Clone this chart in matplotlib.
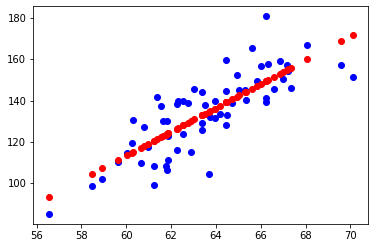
import numpy as np
import matplotlib
matplotlib.use("Agg")
import matplotlib.pyplot as plt

# heights (x) and weights (y)
height = np.array([56.53, 58.47, 58.92, 59.61, 60.04, 60.24, 60.28, 60.64, 60.81, 60.97,
                   61.22, 61.22, 61.39, 61.57, 61.62, 61.80, 61.75, 61.80, 61.88, 61.86,
                   62.26, 62.26, 62.30, 62.55, 62.55, 62.75, 62.87, 63.04, 63.40, 63.67,
                   63.52, 63.94, 63.94, 64.16, 63.40, 63.40, 63.73, 64.47, 64.47, 64.50,
                   64.47, 64.71, 64.92, 65.05, 65.30, 65.32, 65.62, 65.84, 65.99, 66.22,
                   66.22, 66.22, 66.34, 66.61, 66.86, 67.01, 67.19, 67.23, 67.37, 68.08,
                   69.60, 70.12])
weight = np.array([85.0, 98.7, 102.1, 110.2, 114.5, 119.4, 130.5, 109.7, 127.2, 117.6,
                   108.2, 99.0, 141.7, 137.3, 130.1, 130.1, 108.4, 106.3, 111.4, 122.8,
                   116.0, 138.3, 139.9, 123.8, 139.9, 138.8, 115.0, 145.6, 144.1, 104.5,
                   137.8, 139.9, 131.5, 133.5, 129.1, 125.8, 132.3, 159.6, 144.6, 133.1,
                   128.1, 138.8, 152.4, 145.1, 145.2, 140.4, 165.5, 149.6, 156.7, 181.1,
                   141.2, 139.4, 157.7, 145.6, 159.2, 150.4, 157.4, 154.4, 146.1, 166.9,
                   157.2, 151.4])

# linear regression, predictions at each height
slope, intercept = np.polyfit(height, weight, 1)
predicted = intercept + slope * height

plt.rcParams['font.size'] = 10
fig = plt.figure(figsize=(375 / 72, 248 / 72), dpi=72)
ax = fig.add_axes([33.3 / 375, 1 - 224 / 248, 335 / 375, 218 / 248])
ax.scatter(height, weight, color='blue')
ax.scatter(height, predicted, color='red')
fig.savefig('out.png', dpi=72)
